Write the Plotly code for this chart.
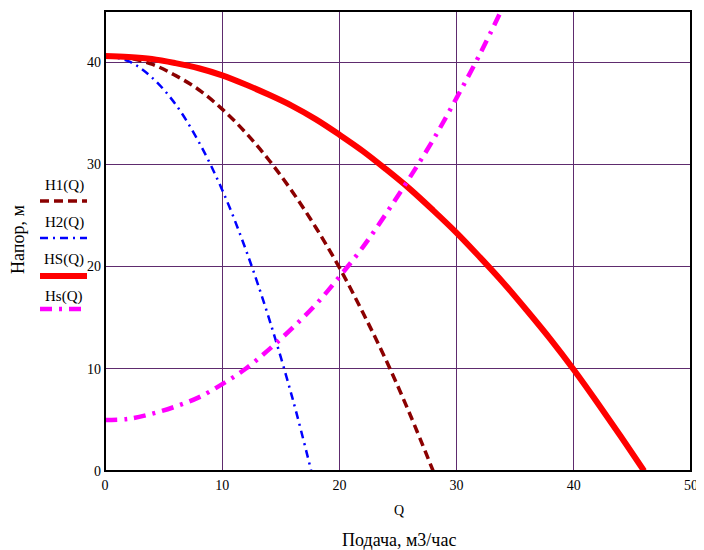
import plotly.graph_objects as go

# ---- data ----
q_hs = [0, 2, 4, 6, 8, 10, 12, 14, 16, 18, 20, 22, 24, 26, 28, 30, 32, 34, 36, 38, 40, 42, 44, 46]
h_hs = [40.6, 40.5, 40.3, 39.9, 39.4, 38.7, 37.8, 36.8, 35.7, 34.4, 32.9, 31.3, 29.5, 27.6, 25.5, 23.3,
        20.9, 18.4, 15.7, 12.9, 9.9, 6.7, 3.4, 0.0]

q_h1 = [0, 2, 4, 6, 8, 10, 12, 14, 16, 18, 20, 22, 24, 26, 28]
h_h1 = [40.6, 40.4, 39.8, 38.7, 37.3, 35.4, 33.1, 30.4, 27.3, 23.8, 19.9, 15.5, 10.8, 5.6, 0.0]

q_h2 = [0, 2, 4, 6, 8, 10, 12, 14, 16, 17.6]
h_h2 = [40.6, 40.1, 38.5, 35.9, 32.2, 27.5, 21.7, 14.9, 7.1, 0.0]

q_sys = [0, 2, 4, 6, 8, 10, 12, 14, 16, 18, 20, 22, 24, 26, 28, 30, 32, 34]
h_sys = [5.0, 5.1, 5.6, 6.3, 7.2, 8.5, 10.0, 11.9, 14.0, 16.3, 19.0, 21.9, 25.2, 28.7, 32.4, 36.5, 40.8, 45.5]

x_ticks = [0, 10, 20, 30, 40, 50]
y_ticks = [0, 10, 20, 30, 40]
legend_names = ["H1(Q)", "H2(Q)", "HS(Q)", "Hs(Q)"]

# ---- layout geometry (page pixels; the page body adds an 8px offset) ----
OFF = 8
W, H = 704 - OFF, 550 - OFF
PL, PR, PT, PB = 105, 691, 11, 471        # plot box in page pixels
L, R, T, B = PL - OFF, 704 - PR, PT - OFF, 550 - PB
PW, PH = PR - PL, PB - PT
FONT = "Liberation Serif, Times New Roman, serif"

def px(x):
    return (x - PL) / PW

def py(y):
    return (PB - y) / PH

styles = [
    dict(color="#8b0000", width=3.5, dash="9px,5px"),
    dict(color="#0000ff", width=2.5, dash="8px,5px,2px,5px"),
    dict(color="#ff0000", width=6, dash="solid"),
    dict(color="#ff00ff", width=4.5, dash="12px,7px,3px,7px"),
]
series = [(q_h1, h_h1), (q_h2, h_h2), (q_hs, h_hs), (q_sys, h_sys)]

fig = go.Figure()
for (qx, hy), st, nm in zip(series, styles, legend_names):
    fig.add_trace(go.Scatter(x=qx, y=hy, mode="lines", name=nm,
                             line=dict(shape="spline", smoothing=1.0, **st),
                             showlegend=False, hoverinfo="skip"))

annotations = []
shapes = []
leg_text_y = [185, 222, 259, 296]
leg_line_y = [201, 238, 276, 309]
for nm, st, ty, ly in zip(legend_names, styles, leg_text_y, leg_line_y):
    annotations.append(dict(x=px(64), y=py(ty), xref="paper", yref="paper", text=nm,
                            showarrow=False, font=dict(family=FONT, size=15, color="black"),
                            xanchor="center", yanchor="middle"))
    shapes.append(dict(type="line", xref="paper", yref="paper",
                       x0=px(40), x1=px(87), y0=py(ly), y1=py(ly),
                       line=dict(color=st["color"], width=st["width"], dash=st["dash"])))

annotations.append(dict(x=px(18), y=py(240), xref="paper", yref="paper", text="Напор, м",
                        textangle=-90, showarrow=False,
                        font=dict(family=FONT, size=18, color="black"),
                        xanchor="center", yanchor="middle"))
annotations.append(dict(x=px(399), y=py(510), xref="paper", yref="paper", text="Q",
                        showarrow=False, font=dict(family=FONT, size=14, color="black"),
                        xanchor="center", yanchor="middle"))
annotations.append(dict(x=px(399), y=py(540), xref="paper", yref="paper", text="Подача, м3/час",
                        showarrow=False, font=dict(family=FONT, size=18, color="black"),
                        xanchor="center", yanchor="middle"))

shapes.append(dict(type="rect", xref="paper", yref="paper", x0=0, x1=1, y0=0, y1=1,
                   line=dict(color="black", width=2), layer="above"))

fig.update_layout(
    width=W, height=H,
    margin=dict(l=L, r=R, t=T, b=B, autoexpand=False),
    paper_bgcolor="white", plot_bgcolor="white",
    font=dict(family=FONT, size=14, color="black"),
    annotations=annotations, shapes=shapes,
    xaxis=dict(range=[0, 50], tickvals=x_ticks, ticktext=[str(v) for v in x_ticks],
               showgrid=True, gridcolor="#5e2b6e", gridwidth=1, zeroline=False,
               showline=False, ticks="", ticklabelstandoff=4,
               tickfont=dict(family=FONT, size=14)),
    yaxis=dict(range=[0, 45], tickvals=y_ticks, ticktext=[str(v) for v in y_ticks],
               showgrid=True, gridcolor="#5e2b6e", gridwidth=1, zeroline=False,
               showline=False, ticks="", ticklabelstandoff=3,
               tickfont=dict(family=FONT, size=14)),
    showlegend=False,
)

fig.write_html("out.html")
